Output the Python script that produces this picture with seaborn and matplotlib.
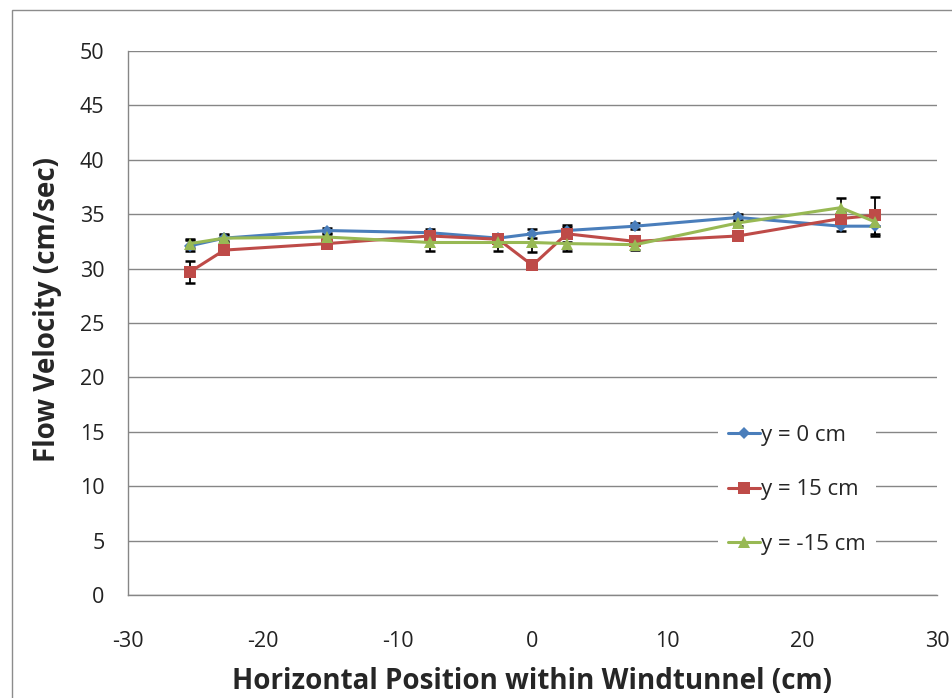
import numpy as np
import pandas as pd
import matplotlib
matplotlib.use("Agg")
import matplotlib.pyplot as plt
from matplotlib.patches import Rectangle
import seaborn as sns

# Measurement positions across the tunnel (cm)
positions = [-25.4, -22.86, -15.24, -7.62, -2.54, 0.0, 2.54, 7.62, 15.24, 22.86, 25.4]

# Mean flow velocity (cm/sec) at each height
vel_y0 = [32.1, 32.8, 33.5, 33.3, 32.8, 33.2, 33.5, 33.9, 34.7, 33.9, 33.9]
vel_y15 = [29.7, 31.7, 32.3, 33.0, 32.7, 30.3, 33.2, 32.5, 33.0, 34.6, 34.9]
vel_ym15 = [32.3, 32.8, 32.9, 32.4, 32.4, 32.4, 32.3, 32.2, 34.2, 35.6, 34.3]

# Standard deviations (cm/sec)
err_y0 = [0.5, 0.3, 0.2, 0.3, 0.3, 0.4, 0.3, 0.3, 0.3, 0.4, 0.9]
err_y15 = [1.0, 0.3, 0.3, 0.4, 0.3, 0.3, 0.8, 0.3, 0.4, 0.6, 1.7]
err_ym15 = [0.4, 0.4, 0.3, 0.8, 0.8, 0.9, 0.7, 0.5, 0.3, 0.9, 0.4]

series_labels = ["y = 0 cm", "y = 15 cm", "y = -15 cm"]
x_ticks = [-30, -20, -10, 0, 10, 20, 30]
y_ticks = [0, 5, 10, 15, 20, 25, 30, 35, 40, 45, 50]

frames = []
for lab, v, e in zip(series_labels, [vel_y0, vel_y15, vel_ym15], [err_y0, err_y15, err_ym15]):
    frames.append(pd.DataFrame({"pos": positions, "vel": v, "err": e, "series": lab}))
df = pd.concat(frames, ignore_index=True)

sns.set_style("white")
plt.rcParams["font.family"] = ["Open Sans", "DejaVu Sans"]

colors = {"y = 0 cm": "#4A7EBB", "y = 15 cm": "#BE4B48", "y = -15 cm": "#98B954"}
markers = {"y = 0 cm": "D", "y = 15 cm": "s", "y = -15 cm": "^"}
msizes = {"y = 0 cm": 6, "y = 15 cm": 9, "y = -15 cm": 9}

fig = plt.figure(figsize=(9.53, 6.98), dpi=100)
ax = fig.add_axes([0.1343, 0.1476, 0.9832 - 0.1343, 0.9269 - 0.1476])

# Outer chart border
fig.patches.append(Rectangle((12 / 953, -0.1), 1.2, 1 - 10 / 698 + 0.1,
                             transform=fig.transFigure, fill=False,
                             edgecolor="#8C8C8C", linewidth=1.0, zorder=0))

for lab in series_labels:
    sub = df[df["series"] == lab]
    ax.errorbar(sub["pos"], sub["vel"], yerr=sub["err"], fmt="none",
                ecolor="black", elinewidth=1.3, capsize=3.5, capthick=1.8, zorder=2)

for lab in series_labels:
    sub = df[df["series"] == lab]
    sns.lineplot(data=sub, x="pos", y="vel", ax=ax, color=colors[lab],
                 marker=markers[lab], markersize=msizes[lab], markeredgewidth=0,
                 linewidth=2.2, label=lab, sort=False, zorder=3)

ax.set_xlim(-30, 30)
ax.set_ylim(0, 50)
ax.set_xticks(x_ticks)
ax.set_yticks(y_ticks)
ax.set_xticklabels([str(t) for t in x_ticks])
ax.set_yticklabels([str(t) for t in y_ticks])

ax.yaxis.grid(True, color="#868686", linewidth=1.0)
ax.set_axisbelow(True)
for side in ["top", "right"]:
    ax.spines[side].set_visible(False)
for side in ["left", "bottom"]:
    ax.spines[side].set_color("#868686")
    ax.spines[side].set_linewidth(1.0)

ax.tick_params(axis="x", direction="out", length=6, width=1, color="#868686",
               labelsize=15.5, pad=20, labelcolor="#222222")
ax.tick_params(axis="y", direction="out", length=6, width=1, color="#868686",
               labelsize=15.5, pad=11, labelcolor="#222222")

ax.set_xlabel("Horizontal Position within Windtunnel (cm)", fontsize=20,
              fontweight="bold", labelpad=11)
ax.set_ylabel("Flow Velocity (cm/sec)", fontsize=20, fontweight="bold")
ax.yaxis.set_label_coords(-0.082, 0.524)

leg = ax.legend(loc="upper left", bbox_to_anchor=(718 / 953, 1 - 415 / 698),
                bbox_transform=fig.transFigure, fontsize=16, frameon=True,
                facecolor="white", edgecolor="white", framealpha=1,
                handlelength=1.45, handletextpad=0.05, labelspacing=1.5,
                borderpad=0.45, borderaxespad=0)
leg.get_frame().set_linewidth(0)

fig.savefig("out.png", dpi=100)
